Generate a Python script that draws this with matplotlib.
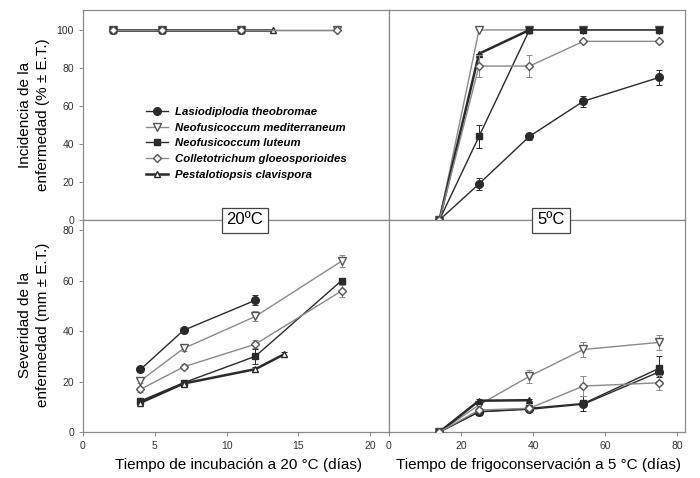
import matplotlib
matplotlib.use('Agg')
import matplotlib.pyplot as plt
import numpy as np

plt.rcParams['font.family'] = ['Liberation Sans', 'DejaVu Sans']

nan = np.nan
species = ['Lasiodiplodia theobromae', 'Neofusicoccum mediterraneum',
           'Neofusicoccum luteum', 'Colletotrichum gloeosporioides',
           'Pestalotiopsis clavispora']

# incidence at 20 C
inc20_days = [2.1, 5.5, 11.0, 13.2, 17.7]
inc20_lt = [100, 100, 100, nan, nan]
inc20_nm = [100, 100, 100, nan, 100]
inc20_nl = [100, 100, 100, nan, nan]
inc20_cg = [100, 100, 100, nan, 100]
inc20_pc = [100, 100, 100, 100, nan]

# incidence at 5 C
days5 = [14, 25, 39, 54, 75]
inc5_lt = [0, 19, 44, 62.5, 75]
inc5_nm = [0, 100, 100, 100, 100]
inc5_nl = [0, 44, 100, 100, 100]
inc5_cg = [0, 81, 81, 94, 94]
inc5_pc = [0, 87.5, 100, nan, nan]
inc5_err_lt = [0, 3, 2, 3, 4]
inc5_err_nm = [0, 0, 0, 0, 0]
inc5_err_nl = [0, 6, 0, 0, 0]
inc5_err_cg = [0, 6, 6, 0, 0]
inc5_err_pc = [0, 0, 0, 0, 0]

# severity at 20 C
days20 = [4, 7, 12, 14, 18]
sev20_lt = [24.8, 40.3, 52.2, nan, nan]
sev20_nm = [20.3, 33.1, 45.8, nan, 67.7]
sev20_nl = [12.3, 19.5, 30.0, nan, 60.0]
sev20_cg = [16.9, 25.8, 34.8, nan, 55.9]
sev20_pc = [11.6, 19.2, 24.9, 30.8, nan]
sev20_err_lt = [1, 1, 2, 0, 0]
sev20_err_nm = [1, 1, 2, 0, 2.5]
sev20_err_nl = [1, 1, 3, 0, 1]
sev20_err_cg = [1, 1, 1.5, 0, 2.5]
sev20_err_pc = [1, 1, 1, 1, 0]

# severity at 5 C
sev5_lt = [0, 8.0, 9.0, 11.0, 23.8]
sev5_nm = [0, 10.7, 22.1, 32.7, 35.5]
sev5_nl = [0, 8.0, 9.4, 11.3, 25.2]
sev5_cg = [0, 8.7, 9.4, 18.2, 19.5]
sev5_pc = [0, 12.4, 12.6, nan, nan]
sev5_err_lt = [0, 0.5, 0.5, 1, 2]
sev5_err_nm = [0, 1, 2.5, 3, 3]
sev5_err_nl = [0, 0.5, 0.5, 3, 5]
sev5_err_cg = [0, 0.5, 0.5, 4, 3]
sev5_err_pc = [0, 0.5, 0.5, 0, 0]

dark = '#2a2a2a'
grey = '#8a8a8a'
styles = [
    dict(color=dark, marker='o', mfc=dark, mec=dark, ms=5.5, lw=1.0),
    dict(color=grey, marker='v', mfc='white', mec='#555555', ms=5.5, lw=1.0),
    dict(color=dark, marker='s', mfc=dark, mec=dark, ms=5, lw=1.0),
    dict(color=grey, marker='D', mfc='white', mec='#555555', ms=4.5, lw=1.0),
    dict(color=dark, marker='^', mfc='white', mec=dark, ms=5, lw=1.8),
]
zorders = [3, 3, 3, 5, 4]


def draw(ax, x, series, errs=None, pc_fill='white'):
    x = np.array(x, dtype=float)
    for i, y in enumerate(series):
        y = np.array(y, dtype=float)
        ok = ~np.isnan(y)
        st = dict(styles[i])
        if i == 4:
            st['mfc'] = pc_fill
        if errs is not None:
            e = np.array(errs[i], dtype=float)[ok]
            ax.errorbar(x[ok], y[ok], yerr=e, capsize=2, elinewidth=0.7,
                        capthick=0.7, ecolor=st['color'], zorder=zorders[i],
                        color=st['color'], marker=st['marker'], mfc=st['mfc'],
                        mec=st['mec'], ms=st['ms'], lw=st['lw'],
                        label=species[i])
        else:
            ax.plot(x[ok], y[ok], zorder=zorders[i], label=species[i], **st)


fig = plt.figure(figsize=(7, 4.78), dpi=100)
L, M, R = 83 / 700, 389 / 700, 685 / 700
T, H, B = 1 - 10 / 478, 1 - 220 / 478, 1 - 432 / 478

ax1 = fig.add_axes([L, H, M - L, T - H])
ax2 = fig.add_axes([M, H, R - M, T - H])
ax3 = fig.add_axes([L, B, M - L, H - B])
ax4 = fig.add_axes([M, B, R - M, H - B])

draw(ax1, inc20_days, [inc20_lt, inc20_nm, inc20_nl, inc20_cg, inc20_pc])
draw(ax2, days5, [inc5_lt, inc5_nm, inc5_nl, inc5_cg, inc5_pc],
     [inc5_err_lt, inc5_err_nm, inc5_err_nl, inc5_err_cg, inc5_err_pc], pc_fill=dark)
draw(ax3, days20, [sev20_lt, sev20_nm, sev20_nl, sev20_cg, sev20_pc],
     [sev20_err_lt, sev20_err_nm, sev20_err_nl, sev20_err_cg, sev20_err_pc])
draw(ax4, days5, [sev5_lt, sev5_nm, sev5_nl, sev5_cg, sev5_pc],
     [sev5_err_lt, sev5_err_nm, sev5_err_nl, sev5_err_cg, sev5_err_pc], pc_fill=dark)

for ax in (ax1, ax3):
    ax.set_xlim(0, 21.3)
for ax in (ax2, ax4):
    ax.set_xlim(0, 82.2)
for ax in (ax1, ax2):
    ax.set_ylim(0, 110.5)
    ax.set_yticks([0, 20, 40, 60, 80, 100])
for ax in (ax3, ax4):
    ax.set_ylim(0, 84)
    ax.set_yticks([0, 20, 40, 60, 80])
ax3.set_xticks([0, 5, 10, 15, 20])
ax4.set_xticks([0, 20, 40, 60, 80])

for ax in (ax1, ax2, ax3, ax4):
    for s in ax.spines.values():
        s.set_color('#8a8a8a')
        s.set_linewidth(0.9)
    ax.tick_params(labelsize=7.5, colors='#333333', length=3, width=0.7)
    ax.tick_params(axis='both', color='#8a8a8a')
for ax in (ax1, ax2):
    ax.tick_params(axis='x', bottom=False, labelbottom=False)
for ax in (ax2, ax4):
    ax.tick_params(axis='y', left=False, labelleft=False)

leg = ax1.legend(loc='upper left', bbox_to_anchor=(0.19, 0.56), frameon=False,
                 fontsize=8.2, labelspacing=0.5, handlelength=2.0, handletextpad=0.6,
                 borderaxespad=0)
for t in leg.get_texts():
    t.set_fontweight('bold')
    t.set_fontstyle('italic')

box = dict(boxstyle='square,pad=0.3', fc='white', ec='#444444', lw=0.9)
fig.text(245 / 700, H, '20ºC', ha='center', va='center', fontsize=12, bbox=box, zorder=10)
fig.text(551 / 700, H, '5ºC', ha='center', va='center', fontsize=12, bbox=box, zorder=10)

fig.text(34 / 700, 1 - 115 / 478, 'Incidencia de la\nenfermedad (% ± E.T.)',
         rotation=90, ha='center', va='center', fontsize=11, linespacing=1.4)
fig.text(34 / 700, 1 - 325 / 478, 'Severidad de la\nenfermedad (mm ± E.T.)',
         rotation=90, ha='center', va='center', fontsize=11, linespacing=1.4)
fig.text(238 / 700, 1 - 465 / 478, 'Tiempo de incubación a 20 °C (días)',
         ha='center', va='center', fontsize=11)
fig.text(538 / 700, 1 - 465 / 478, 'Tiempo de frigoconservación a 5 °C (días)',
         ha='center', va='center', fontsize=11)

fig.savefig('out.png', dpi=100)
